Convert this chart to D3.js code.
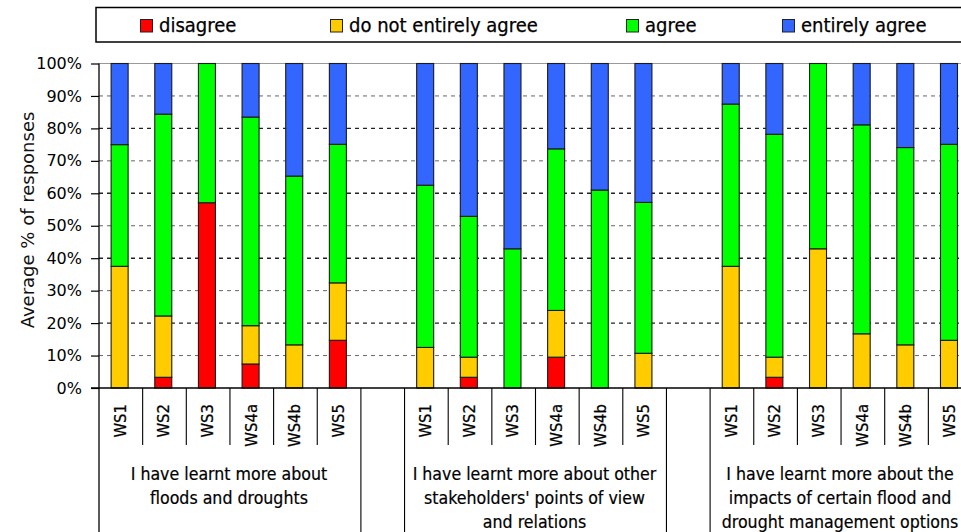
<!DOCTYPE html>
<html>
<head>
<meta charset="utf-8">
<script src="https://cdn.jsdelivr.net/npm/d3@7"></script>
<style>
  html, body { margin: 0; padding: 0; background: #fff; }
  svg { display: block; }
  .cond { font-family: "DejaVu Sans Condensed", "DejaVu Sans", sans-serif; font-stretch: condensed; }
  .reg { font-family: "DejaVu Sans", Verdana, sans-serif; }
</style>
</head>
<body>
<svg id="chart" width="961" height="532"></svg>
<script>
// Workshops shown for every statement
const workshops = ["WS1", "WS2", "WS3", "WS4a", "WS4b", "WS5"];

// Statement labels (one entry per line)
const statements = [
  ["I have learnt more about", "floods and droughts"],
  ["I have learnt more about other", "stakeholders' points of view", "and relations"],
  ["I have learnt more about the", "impacts of certain flood and", "drought management options"]
];

const responseLabels = ["disagree", "do not entirely agree", "agree", "entirely agree"];
const responseColors = ["#ff0000", "#ffcc00", "#00ff00", "#3366ff"];

// Average % of responses, 18 bars: statement 1 (WS1..WS5), statement 2, statement 3
const disagree = [
  0, 3.3, 57.1, 7.4, 0, 14.7,
  0, 3.3, 0, 9.5, 0, 0,
  0, 3.3, 0, 0, 0, 0
];
const notEntirelyAgree = [
  37.5, 18.9, 0, 11.8, 13.3, 17.7,
  12.5, 6.2, 0, 14.4, 0, 10.7,
  37.5, 6.2, 42.9, 16.7, 13.3, 14.7
];
const agree = [
  37.5, 62.2, 42.9, 64.3, 52.0, 42.7,
  50.0, 43.4, 42.9, 49.8, 61.0, 46.5,
  50.0, 68.7, 57.1, 64.4, 60.8, 60.4
];
const entirelyAgree = [
  25.0, 15.6, 0, 16.5, 34.7, 24.9,
  37.5, 47.1, 57.1, 26.3, 39.0, 42.8,
  12.5, 21.8, 0, 18.9, 25.9, 24.9
];

const yTickValues = [0, 10, 20, 30, 40, 50, 60, 70, 80, 90, 100];

// ---- layout ----
const W = 961, H = 532;
const axisX = 99, baseY = 388, topY = 63.5;
const slotW = 43.65, barW = 17, shift = -1.2;

const svg = d3.select("#chart");

// slot keys: six workshops per statement, one empty slot between statements
const slots = [];
statements.forEach((s, g) => {
  workshops.forEach(w => slots.push(g + "|" + w));
  if (g < statements.length - 1) slots.push("gap" + g);
});

const x = d3.scaleBand().domain(slots).range([axisX, axisX + slots.length * slotW]).padding(0);
const y = d3.scaleLinear().domain([0, 100]).range([baseY, topY]);

// rows for stacking
const keys = ["d", "n", "a", "e"];
const rows = [];
statements.forEach((s, g) => {
  workshops.forEach((w, i) => {
    const k = g * workshops.length + i;
    rows.push({ slot: g + "|" + w, d: disagree[k], n: notEntirelyAgree[k], a: agree[k], e: entirelyAgree[k] });
  });
});
const stacked = d3.stack().keys(keys)(rows);

// ---- legend ----
const legend = svg.append("g");
legend.append("rect")
  .attr("x", 96).attr("y", 7.5).attr("width", 900).attr("height", 34.5)
  .attr("fill", "#fff").attr("stroke", "#000").attr("stroke-width", 1.5);
const legendX = [140, 330, 626, 782];
responseLabels.forEach((lab, i) => {
  const gi = legend.append("g").attr("transform", `translate(${legendX[i]},0)`);
  gi.append("rect").attr("x", 0.5).attr("y", 19.5).attr("width", 12).attr("height", 12.5)
    .attr("fill", responseColors[i]).attr("stroke", "#222").attr("stroke-width", 1);
  gi.append("text").attr("class", "cond").attr("x", 19).attr("y", 32)
    .attr("font-size", 20).attr("fill", "#000")
    .attr("stroke", "#000").attr("stroke-width", 0.25).text(lab);
});

// ---- gridlines ----
const grid = svg.append("g");
yTickValues.filter(t => t > 0 && t < 100).forEach(t => {
  const strong = t % 20 === 0;
  grid.append("line")
    .attr("x1", axisX).attr("x2", W).attr("y1", y(t)).attr("y2", y(t))
    .attr("stroke", strong ? "#222" : "#666")
    .attr("stroke-width", strong ? 1.4 : 1)
    .attr("stroke-dasharray", "4,4");
});
grid.append("line").attr("x1", axisX).attr("x2", W).attr("y1", y(100)).attr("y2", y(100))
  .attr("stroke", "#999").attr("stroke-width", 1.2);

// ---- bars ----
const barG = svg.append("g");
stacked.forEach((layer, li) => {
  barG.selectAll(null)
    .data(layer.filter(d => d[1] - d[0] > 0))
    .join("rect")
    .attr("x", d => x(d.data.slot) + (x.bandwidth() - barW) / 2 + shift)
    .attr("width", barW)
    .attr("y", d => y(d[1]))
    .attr("height", d => y(d[0]) - y(d[1]))
    .attr("fill", responseColors[li])
    .attr("stroke", "#1a1a1a")
    .attr("stroke-width", 1.1);
});

// ---- y axis ----
const yAxis = svg.append("g").attr("transform", `translate(${axisX},0)`)
  .call(d3.axisLeft(y).tickValues(yTickValues).tickFormat(d => d + "%").tickSize(8).tickSizeOuter(0));
yAxis.select(".domain").remove();
yAxis.selectAll(".tick line").attr("stroke", "#000").attr("stroke-width", 1.2);
yAxis.selectAll(".tick text").attr("class", "reg").attr("font-size", 16).attr("fill", "#000").attr("x", -17);

svg.append("line").attr("x1", axisX).attr("x2", axisX).attr("y1", topY).attr("y2", H)
  .attr("stroke", "#000").attr("stroke-width", 1.3);

svg.append("text").attr("class", "reg")
  .attr("transform", "translate(34,220) rotate(-90)")
  .attr("text-anchor", "middle").attr("font-size", 18).attr("fill", "#111")
  .text("Average % of responses");

// ---- x axis: workshop labels ----
const xAxis = svg.append("g").attr("transform", `translate(${shift},${baseY})`)
  .call(d3.axisBottom(x).tickValues(slots.filter(s => !s.startsWith("gap")))
    .tickFormat(s => s.split("|")[1]).tickSize(0).tickPadding(0));
xAxis.select(".domain").remove();
xAxis.selectAll(".tick text")
  .attr("class", "cond").attr("font-size", 16.5).attr("fill", "#000")
  .attr("stroke", "#000").attr("stroke-width", 0.25)
  .attr("transform", "rotate(-90)")
  .attr("x", -16).attr("y", 0).attr("dy", "0.36em")
  .attr("text-anchor", "end");

svg.append("line").attr("x1", 91).attr("x2", W).attr("y1", baseY).attr("y2", baseY)
  .attr("stroke", "#000").attr("stroke-width", 1.3);

// separators: short ones between workshops, full-height ones at statement edges
const sepG = svg.append("g");
slots.forEach((s, i) => {
  if (i === 0) return;
  const xs = x(s);
  const prev = slots[i - 1];
  const full = s.startsWith("gap") || prev.startsWith("gap");
  sepG.append("line")
    .attr("x1", xs).attr("x2", xs).attr("y1", baseY).attr("y2", full ? H : 445)
    .attr("stroke", "#000").attr("stroke-width", 1.1);
});

// statement labels
statements.forEach((lines, g) => {
  const first = x(g + "|" + workshops[0]);
  const last = x(g + "|" + workshops[workshops.length - 1]) + x.bandwidth();
  const cx = (first + last) / 2 - 1;
  const t = svg.append("text").attr("class", "cond").attr("font-size", 17.6)
    .attr("fill", "#000").attr("stroke", "#000").attr("stroke-width", 0.2)
    .attr("text-anchor", "middle");
  lines.forEach((ln, li) => {
    t.append("tspan").attr("x", cx).attr("y", 480 + li * 24).text(ln);
  });
});
</script>
</body>
</html>
